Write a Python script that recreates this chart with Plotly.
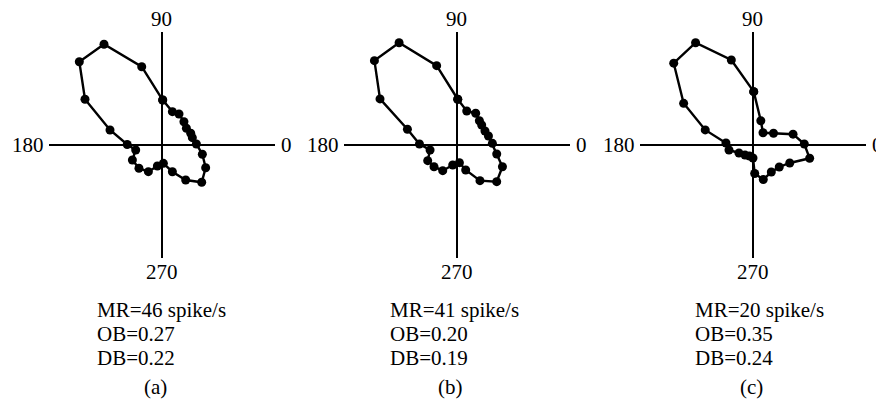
import numpy as np
import plotly.graph_objects as go

# ---------------- data ----------------
panel_tags = ["(a)", "(b)", "(c)"]
mr_lines = ["MR=46 spike/s", "MR=41 spike/s", "MR=20 spike/s"]
ob_lines = ["OB=0.27", "OB=0.20", "OB=0.35"]
db_lines = ["DB=0.22", "DB=0.19", "DB=0.24"]
axis_tick_labels = ["0", "90", "180", "270"]

# direction (deg) and response (relative units, axis arm = 100)
theta_a = [88.7, 104.3, 119.8, 134.7, 149.2, 163.8, 179.2, 190.9, 207.1, 225.7, 243.5, 258.4, 275.3,
           291.8, 304.4, 317.0, 332.7, 347.1, 1.7, 13.4, 22.0, 34.1, 46.3, 60.8, 72.2]
r_a = [39.8, 71.5, 102.7, 103.6, 79.0, 47.6, 30.5, 23.4, 29.1, 28.8, 26.4, 19.0, 16.3,
       25.5, 37.6, 48.4, 43.8, 36.9, 30.7, 27.9, 27.7, 26.4, 28.5, 31.4, 31.0]

theta_b = [88.7, 104.2, 119.4, 134.3, 149.0, 162.3, 178.5, 190.6, 208.4, 223.7, 241.4, 258.7, 278.7,
           289.8, 303.1, 317.5, 334.6, 347.3, 2.7, 15.9, 26.3, 38.7, 47.0, 59.1, 73.6]
r_b = [40.5, 72.4, 103.9, 104.3, 79.2, 45.8, 33.0, 24.0, 29.2, 27.8, 25.9, 18.1, 15.8,
       23.5, 37.7, 48.0, 44.8, 36.3, 31.6, 29.2, 27.9, 28.3, 29.4, 32.7, 31.4]

theta_c = [89.2, 104.3, 119.3, 134.1, 149.0, 162.5, 175.8, 191.8, 209.7, 231.3, 252.4, 270.0,
           273.4, 286.6, 304.1, 320.1, 333.9, 346.8, 1.1, 15.1, 29.7, 50.7, 72.1]
r_c = [47.2, 77.6, 103.8, 100.8, 71.6, 44.3, 24.0, 21.7, 14.3, 11.3, 10.2, 11.5,
       25.3, 31.9, 28.9, 30.3, 36.2, 51.5, 45.4, 36.7, 20.9, 14.0, 22.5]

panels = [(theta_a, r_a), (theta_b, r_b), (theta_c, r_c)]

# ---------------- figure ----------------
FONT = "Liberation Serif, Times New Roman, serif"
fig = go.Figure()

x_domains = [[0.0460, 0.3017], [0.3798, 0.6354], [0.7149, 0.9706]]
y_domain = [0.3976, 0.9422]
text_x = [0.0984, 0.4299, 0.7749]
tag_x = [0.1674, 0.5000, 0.8416]

annotations = []
for i, (th, rr) in enumerate(panels):
    t = np.deg2rad(np.array(th + th[:1]))
    r = np.array(rr + rr[:1])
    sfx = "" if i == 0 else str(i + 1)
    fig.add_trace(go.Scatter(
        x=r * np.cos(t), y=r * np.sin(t), mode="lines+markers",
        line=dict(color="black", width=2.4),
        marker=dict(color="black", size=9),
        xaxis="x" + sfx, yaxis="y" + sfx, hoverinfo="skip"))
    ax = dict(range=[-100, 100], showgrid=False, showticklabels=False, ticks="",
              showline=False, zeroline=True, zerolinecolor="black", zerolinewidth=2.4,
              fixedrange=True)
    fig.update_layout(**{
        "xaxis" + sfx: dict(ax, domain=x_domains[i], anchor="y" + sfx),
        "yaxis" + sfx: dict(ax, domain=y_domain, anchor="x" + sfx),
    })
    f = dict(family=FONT, size=21, color="black")
    xr, yr = "x" + sfx, "y" + sfx
    annotations += [
        dict(x=100, y=0, xref=xr, yref=yr, text=axis_tick_labels[0], showarrow=False,
             xanchor="left", yanchor="middle", xshift=4, font=f),
        dict(x=0, y=100, xref=xr, yref=yr, text=axis_tick_labels[1], showarrow=False,
             xanchor="center", yanchor="bottom", yshift=-1, font=f),
        dict(x=-100, y=0, xref=xr, yref=yr, text=axis_tick_labels[2], showarrow=False,
             xanchor="right", yanchor="middle", xshift=-3, font=f),
        dict(x=0, y=-100, xref=xr, yref=yr, text=axis_tick_labels[3], showarrow=False,
             xanchor="center", yanchor="top", yshift=0, font=f),
    ]
    for txt, yy in [(mr_lines[i], 0.2723), (ob_lines[i], 0.2145), (db_lines[i], 0.1566)]:
        annotations.append(dict(x=text_x[i], y=yy, xref="paper", yref="paper", text=txt,
                                showarrow=False, xanchor="left", yanchor="middle", font=f))
    annotations.append(dict(x=tag_x[i], y=0.0867, xref="paper", yref="paper", text=panel_tags[i],
                            showarrow=False, xanchor="center", yanchor="middle", font=f))

fig.update_layout(width=884, height=415, margin=dict(l=0, r=0, t=0, b=0),
                  paper_bgcolor="white", plot_bgcolor="white", showlegend=False,
                  annotations=annotations)

fig.write_html("out.html")
